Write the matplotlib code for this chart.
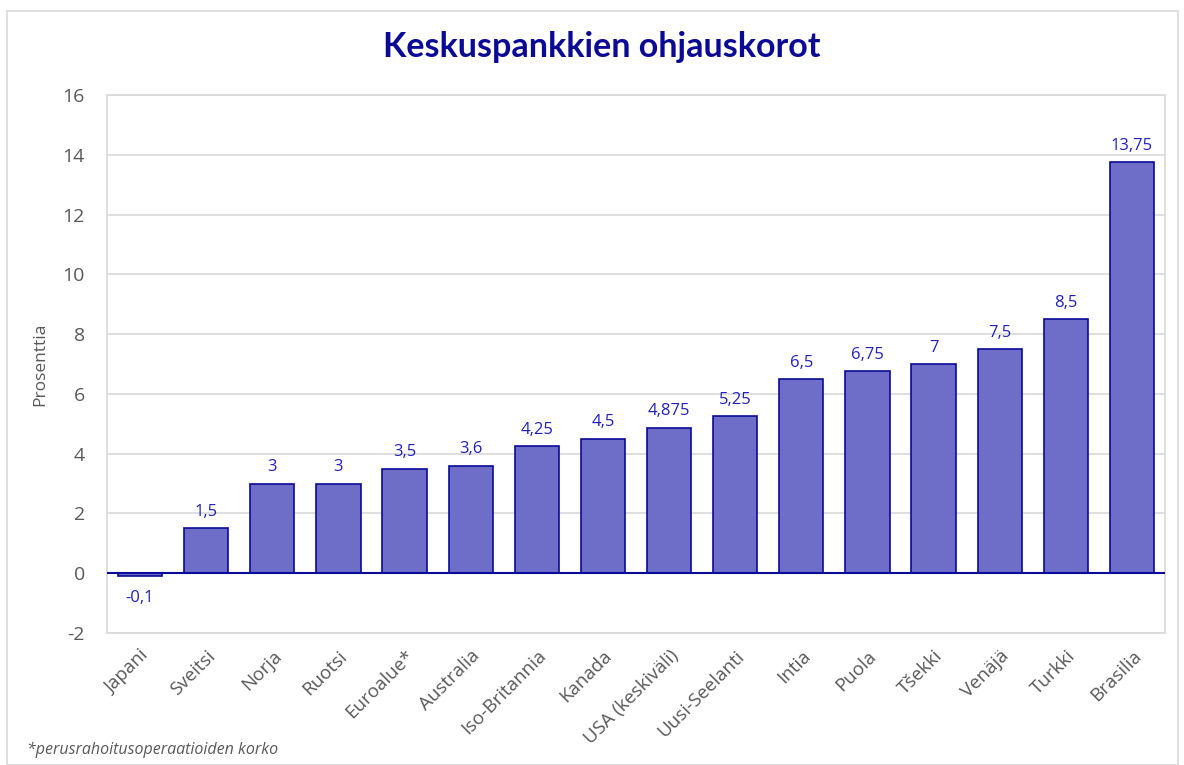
import matplotlib
matplotlib.use("Agg")
import matplotlib.pyplot as plt
from matplotlib.patches import Rectangle

categories = ["Japani", "Sveitsi", "Norja", "Ruotsi", "Euroalue*", "Australia",
              "Iso-Britannia", "Kanada", "USA (keskiväli)", "Uusi-Seelanti",
              "Intia", "Puola", "Tšekki", "Venäjä", "Turkki", "Brasilia"]
values = [-0.1, 1.5, 3, 3, 3.5, 3.6, 4.25, 4.5, 4.875, 5.25, 6.5, 6.75, 7, 7.5, 8.5, 13.75]
value_labels = ["-0,1", "1,5", "3", "3", "3,5", "3,6", "4,25", "4,5", "4,875", "5,25",
                "6,5", "6,75", "7", "7,5", "8,5", "13,75"]
yticks = [-2, 0, 2, 4, 6, 8, 10, 12, 14, 16]

plt.rcParams['font.family'] = ['Open Sans', 'DejaVu Sans']

fig = plt.figure(figsize=(11.84, 7.65), dpi=100)
fig.patches.append(Rectangle((7/1184, 0), 1171/1184, 1 - 11/765, transform=fig.transFigure,
                             fill=False, edgecolor='#d9d9d9', linewidth=1.2))

ax = fig.add_axes([107/1184, 1 - 633/765, (1165-107)/1184, (633-95)/765])
x = list(range(len(categories)))
ax.bar(x, values, width=0.67, color='#6e6ec8', edgecolor='#0a0a9a', linewidth=1.2, zorder=3)
ax.axhline(0, color='#0a0a9a', linewidth=1.5, zorder=4)

for xi, v, lab in zip(x, values, value_labels):
    if v >= 0:
        ax.annotate(lab, (xi, v), xytext=(0, 6), textcoords='offset points',
                    ha='center', va='bottom', color='#2020c0', fontsize=12)
    else:
        ax.annotate(lab, (xi, v), xytext=(0, -10), textcoords='offset points',
                    ha='center', va='top', color='#2020c0', fontsize=12)

ax.set_xlim(-0.5, len(categories) - 0.5)
ax.set_ylim(-2, 16)
ax.set_yticks(yticks)
ax.set_yticklabels([str(t) for t in yticks], color='#595959', fontsize=14)
ax.grid(axis='y', color='#d9d9d9', linewidth=1.2, zorder=0)
ax.tick_params(axis='both', length=0)
ax.tick_params(axis='y', pad=16)
ax.set_xticks(x)
ax.set_xticklabels(categories, rotation=45, ha='right', rotation_mode='anchor',
                   color='#595959', fontsize=13.5)
ax.tick_params(axis='x', pad=10)
for s in ax.spines.values():
    s.set_color('#d9d9d9')
    s.set_linewidth(1.2)
ax.set_ylabel("Prosenttia", color='#595959', fontsize=12.5, labelpad=10)

fig.text(602/1184, 1 - 47/765, "Keskuspankkien ohjauskorot", ha='center', va='center',
         color='#0a0a96', fontsize=24.5, fontweight='bold', family=['Lato', 'DejaVu Sans'])
fig.text(27/1184, 1 - 750/765, "*perusrahoitusoperaatioiden korko", ha='left', va='center',
         color='#595959', fontsize=11.5, style='italic')

fig.savefig("out.png", dpi=100)
